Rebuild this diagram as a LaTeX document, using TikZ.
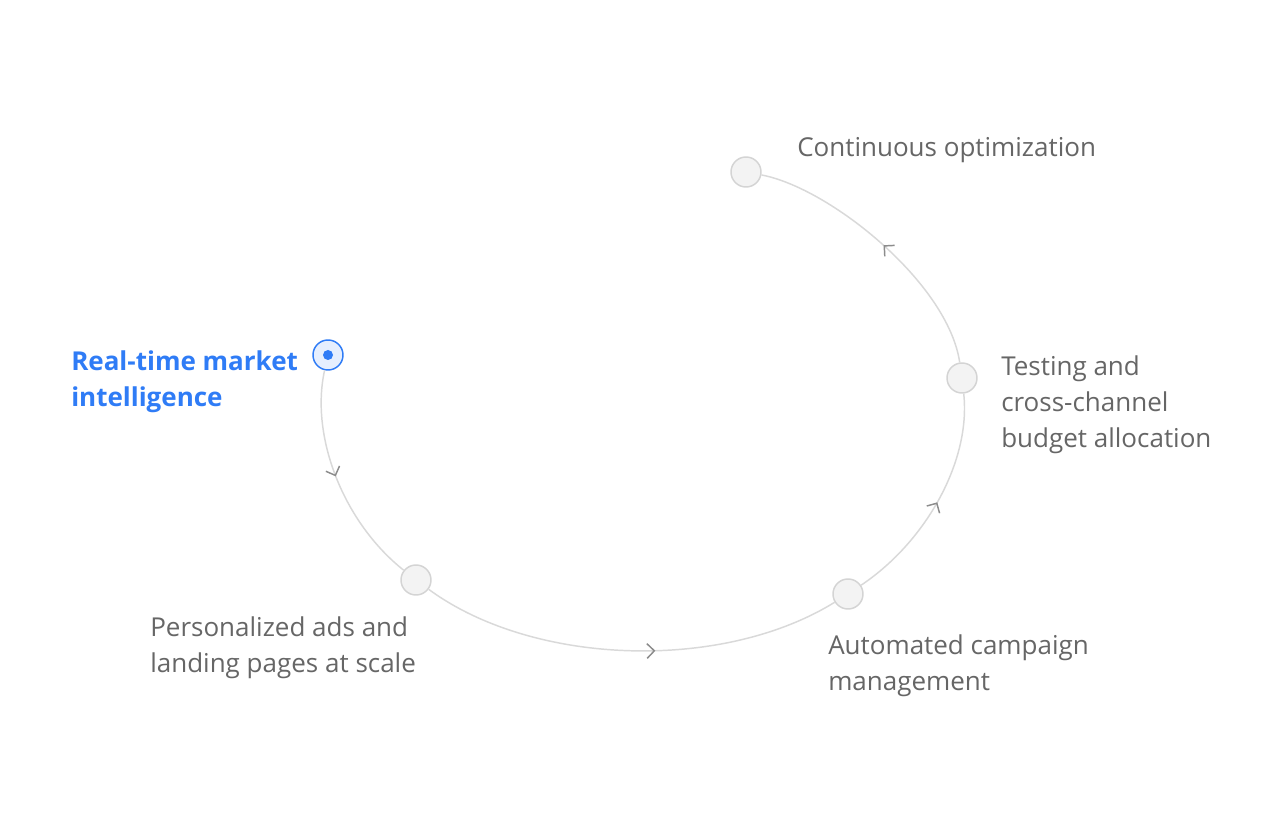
\documentclass[tikz,border=0pt]{standalone}
\usepackage{fontspec}
\setmainfont{Open Sans}
\usetikzlibrary{arrows.meta,decorations.markings}
\definecolor{ringgray}{HTML}{D9D9D9}
\definecolor{chevgray}{HTML}{8C8C8C}
\definecolor{nodeline}{HTML}{D4D4D4}
\definecolor{nodefill}{HTML}{F3F3F3}
\definecolor{textgray}{HTML}{666666}
\definecolor{accent}{HTML}{2F7CF6}
\definecolor{accentlight}{HTML}{E6EFFE}
\begin{document}
\begin{tikzpicture}[x=0.75pt,y=0.75pt,
  stage/.style={circle,draw=nodeline,fill=nodefill,line width=1.1pt,minimum size=22.5pt,inner sep=0pt},
  active/.style={stage,draw=accent,fill=accentlight},
  flow/.style={draw=ringgray,line width=1.1pt,postaction={decorate},
    decoration={markings,mark=at position #1 with {\arrow{Straight Barb[length=5.5pt,width=11pt,line width=1.1pt,color=chevgray]}}}},
  flow/.default=0.5,
  label/.style={text=textgray,font=\fontsize{19.5}{27}\selectfont,align=left,anchor=west,inner sep=0pt}]
\useasboundingbox[fill=white] (0,0) rectangle (1282,828);
\node[active] (intel) at (328,473) {};
\node[circle,fill=accent,minimum size=7.5pt,inner sep=0pt] (intelDot) at (intel) {};
\node[stage] (pers) at (416,248) {};
\node[stage] (auto) at (848,234) {};
\node[stage] (test) at (962,450) {};
\node[stage] (cont) at (746,656) {};
\draw[flow=0.48] (intel) .. controls (310,392) and (343,306) .. (pers);
\draw[flow=0.56] (pers) .. controls (533,162) and (722,156) .. (auto);
\draw[flow] (auto) .. controls (927,287) and (971,368) .. (test);
\draw[flow] (test) .. controls (948,545) and (830,640) .. (cont);
\node[label,text=accent,font=\fontsize{19.5}{27}\selectfont\bfseries] (intelText) at (71,446) {Real-time market\\intelligence};
\node[label] (persText) at (150,180) {Personalized ads and\\landing pages at scale};
\node[label] (autoText) at (828,162) {Automated campaign\\management};
\node[label] (testText) at (1001,423) {Testing and\\cross-channel\\budget allocation};
\node[label] (contText) at (797,678) {Continuous optimization};
\end{tikzpicture}
\end{document}
